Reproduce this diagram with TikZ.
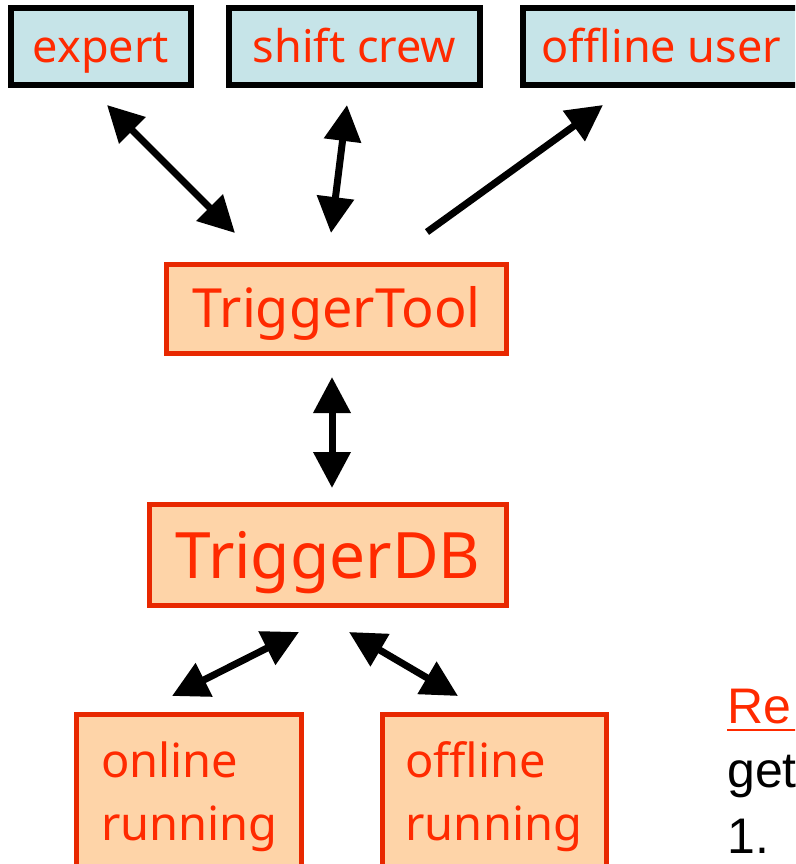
\documentclass[tikz,border=0pt]{standalone}
\usepackage{fontspec}
\usetikzlibrary{arrows.meta}
\newfontfamily\labelfont{Noto Sans}
\newfontfamily\arialfont{Liberation Sans}
\definecolor{labelred}{HTML}{FF2A00}
\definecolor{boxred}{HTML}{E82800}
\definecolor{peach}{HTML}{FED4A8}
\definecolor{paleblue}{HTML}{C6E4E8}
\tikzset{
  userbox/.style={draw=black, line width=6pt, fill=paleblue, text=labelred,
    inner sep=0pt, minimum height=77pt,
    font=\labelfont\fontsize{45}{54}\selectfont, text height=40pt, text depth=7pt},
  toolbox/.style={draw=boxred, line width=5pt, fill=peach, text=labelred, inner sep=0pt},
  runbox/.style={toolbox, anchor=north west, align=left, inner ysep=28pt,
    font=\labelfont\fontsize{47}{63}\selectfont},
  link/.style={line width=7pt, black},
  twoway/.style={link, {Triangle[length=36pt,width=36pt]}-{Triangle[length=36pt,width=36pt]}},
  oneway/.style={link, -{Triangle[length=36pt,width=36pt]}}
}
\begin{document}
\begin{tikzpicture}[x=1pt, y=-1pt]
\useasboundingbox (0,0) rectangle (795,864);
\clip (0,0) rectangle (795,864);

% users at the top
\node[userbox, minimum width=180pt] (expert) at (101,46.5) {expert};
\node[userbox, minimum width=251pt] (crew) at (354.5,46.5) {shift crew};
\node[userbox, minimum width=277pt] (offuser) at (661.5,46.5) {offline user};

% tool and database
\node[toolbox, minimum width=340pt, minimum height=89pt,
  font=\labelfont\fontsize{54}{64}\selectfont, text height=44pt, text depth=8pt]
  (tool) at (336.5,309) {TriggerTool};
\node[toolbox, minimum width=357pt, minimum height=101pt,
  font=\labelfont\fontsize{64}{76}\selectfont, text height=54pt, text depth=8pt]
  (db) at (328,555) {TriggerDB};

% running modes
\node[runbox, text width=175pt, inner xsep=25pt] (online) at (73.5,711.5) {online\\running};
\node[runbox, text width=177pt, inner xsep=23.5pt] (offline) at (379.5,711.5) {offline\\running};

% arrow end points
\coordinate (ea) at (107,105);  \coordinate (eb) at (235,233);
\coordinate (ca) at (347,105);  \coordinate (cb) at (331,233);
\coordinate (ua) at (427,232);  \coordinate (ub) at (603,105);
\coordinate (ta) at (332,377);  \coordinate (tb) at (332,488);
\coordinate (la) at (299,632);  \coordinate (lb) at (172,696);
\coordinate (ra) at (349,632);  \coordinate (rb) at (458,696);

\draw[twoway] (ea) -- (eb);
\draw[twoway] (ca) -- (cb);
\draw[oneway] (ua) -- (ub);
\draw[twoway] (ta) -- (tb);
\draw[twoway] (la) -- (lb);
\draw[twoway] (ra) -- (rb);

% side notes
\node[anchor=base west, inner sep=0pt, text=labelred,
  font=\arialfont\fontsize{50}{60}\selectfont] (re) at (727,723) {Re};
\draw[labelred, line width=2.5pt] ([yshift=-7pt]re.base west) -- ([yshift=-7pt,xshift=20pt]re.base east);
\node[anchor=base west, inner sep=0pt, font=\arialfont\fontsize{50}{60}\selectfont] (get) at (727,787) {get};
\node[anchor=base west, inner sep=0pt, font=\arialfont\fontsize{50}{60}\selectfont] (one) at (727,853) {1.};
\end{tikzpicture}
\end{document}
